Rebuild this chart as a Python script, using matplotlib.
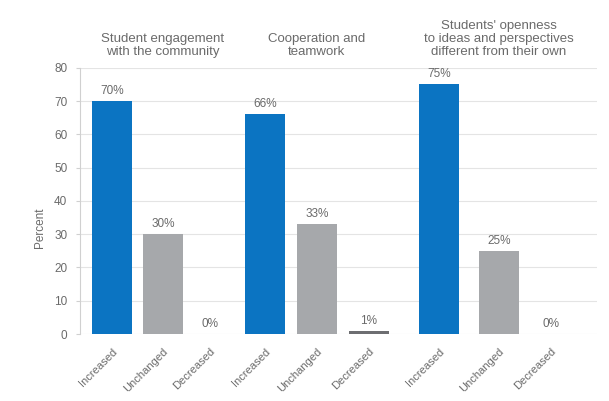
import matplotlib
matplotlib.use("Agg")
import matplotlib.pyplot as plt

plt.rcParams['font.family'] = ['Liberation Sans', 'DejaVu Sans']

groups = ["Student engagement\nwith the community",
          "Cooperation and\nteamwork",
          "Students' openness\nto ideas and perspectives\ndifferent from their own"]
categories = ["Increased", "Unchanged", "Decreased"]
values = [[70, 30, 0],
          [66, 33, 1],
          [75, 25, 0]]
labels = [["70%", "30%", "0%"],
          ["66%", "33%", "1%"],
          ["75%", "25%", "0%"]]

colors = ["#0b74c2", "#a6a8ab", "#6d6e71"]
# bar centres for each group (Increased, Unchanged, Decreased)
positions = [[32, 83, 130], [185, 237, 289], [359, 419, 471]]
bar_w = 40

fig = plt.figure(figsize=(6.09, 4.01), dpi=100)
ax = fig.add_axes([0.131, 0.167, 0.849, 0.664])

txt = "#6a6a6a"
for g in range(3):
    for k in range(3):
        x = positions[g][k]
        v = values[g][k]
        ax.bar(x, v, width=bar_w, color=colors[k], zorder=3)
        ax.text(x, v + 1.2, labels[g][k], ha="center", va="bottom",
                fontsize=8.5, color=txt, zorder=4)
    ax.text(positions[g][1], 83, groups[g], ha="center", va="bottom",
            fontsize=9.5, color=txt, linespacing=1.1)

ax.set_xlim(0, 517)
ax.set_ylim(0, 80)
ax.set_yticks(range(0, 81, 10))
ax.yaxis.grid(True, color="#e4e4e4", linewidth=0.8, zorder=0)
ax.set_xticks([p for grp in positions for p in grp])
ax.set_xticklabels(categories * 3, rotation=45, ha="right",
                   rotation_mode="anchor", fontsize=8, color=txt)
ax.tick_params(axis="y", labelsize=8.5, labelcolor=txt, length=3,
               color="#d0d0d0", pad=6)
ax.tick_params(axis="x", length=0, pad=9)
ax.set_ylabel("Percent", fontsize=8.5, color=txt)
ax.yaxis.set_label_coords(-0.065, 0.40)

for side in ["top", "right", "bottom"]:
    ax.spines[side].set_visible(False)
ax.spines["left"].set_color("#d0d0d0")
ax.spines["left"].set_linewidth(0.8)

fig.savefig("out.png", dpi=100)
